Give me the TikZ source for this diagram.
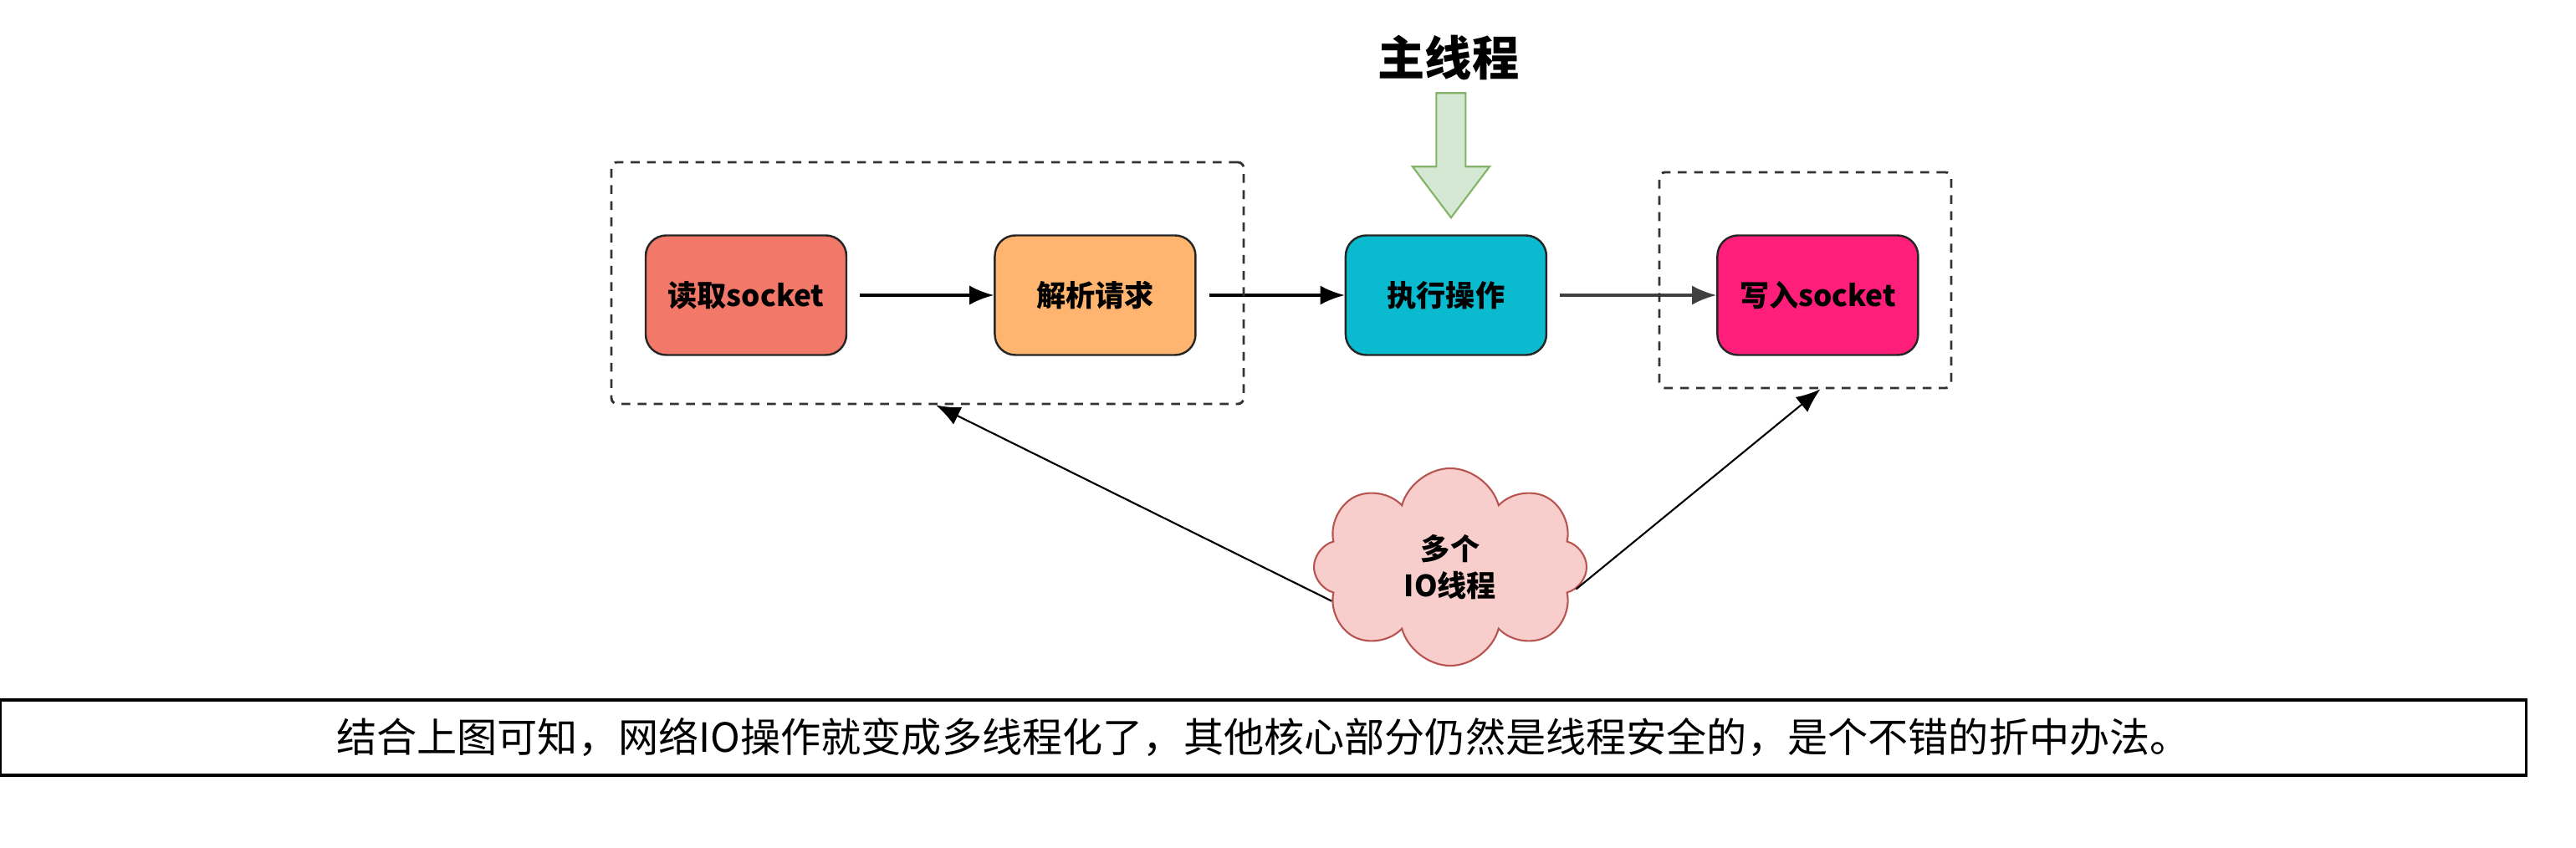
\documentclass[tikz,border=0pt]{standalone}
\usepackage{fontspec}
\setmainfont{Noto Sans CJK SC}
\usetikzlibrary{shapes,shapes.symbols,arrows.meta,positioning,calc}
\usepackage{xcolor}
\definecolor{readred}{HTML}{F2786A}
\definecolor{parseorange}{HTML}{FFB570}
\definecolor{execteal}{HTML}{0ABBCF}
\definecolor{writepink}{HTML}{FF1F7B}
\definecolor{mainfill}{HTML}{D5E8D4}
\definecolor{mainedge}{HTML}{82B366}
\definecolor{cloudfill}{HTML}{F8CECC}
\definecolor{cloudedge}{HTML}{B85450}

\begin{document}
\begin{tikzpicture}[
    proc/.style={rectangle, rounded corners=7pt, minimum width=2.4cm, minimum height=1.43cm, text centered, draw=black!85, line width=0.7pt, font=\bfseries\fontsize{10}{12}\selectfont},
    grp/.style={rectangle, rounded corners=2pt, draw=black!80, line width=0.8pt, dash pattern=on 3pt off 2.5pt},
    flow/.style={->, line width=0.9pt, shorten <=0.15cm},
    >={Latex[length=2.9mm, width=2.3mm]}
]
\useasboundingbox (0,0) rectangle (30.8,-10.14);

% === ALUR UTAMA ===
\node (read) [proc, fill=readred] at (8.92,-3.53) {读取socket};
\node (parse) [proc, fill=parseorange, right=1.75cm of read] {解析请求};
\node (exec) [proc, fill=execteal, right=1.77cm of parse] {执行操作};
\node (write) [proc, fill=writepink, right=2.02cm of exec] {写入socket};

\draw[flow] (read) -- (parse);
\draw[flow] (parse) -- (exec);
\draw[flow, black!75] (exec) -- (write);

% === KOTAK IO ===
\node (readgrp) [grp, minimum width=7.56cm, minimum height=2.89cm] at (11.09,-3.385) {};
\node (writegrp) [grp, minimum width=3.49cm, minimum height=2.58cm] at (21.585,-3.35) {};

% === THREAD UTAMA ===
\node (title) at (17.32,-0.69) {\bfseries\fontsize{16}{18}\selectfont 主线程};
\coordinate (tip) at ($(exec.north)+(0.06,0.2)$);
\draw[fill=mainfill, draw=mainedge, line width=0.6pt] (tip) -- ++(-0.46,0.61) -- ++(0.285,0) -- ++(0,0.88) -- ++(0.35,0) -- ++(0,-0.88) -- ++(0.285,0) -- cycle;

% === THREAD IO ===
\node (io) [cloud, cloud puffs=8, aspect=1.4, minimum width=3.26cm, minimum height=2.36cm, fill=cloudfill, draw=cloudedge, line width=0.6pt, align=center, font=\bfseries\fontsize{10}{12.5}\selectfont] at (17.34,-6.78) {多个\\IO线程};
\draw[->, line width=0.6pt] (io.196) -- ([xshift=0.1cm]readgrp.south);
\draw[->, line width=0.6pt] (io.350) -- ([xshift=0.18cm]writegrp.south);

% Keterangan
\node (note) [draw, line width=1pt, minimum width=30.2cm, minimum height=0.9cm, font=\fontsize{13.7}{16}\selectfont] at (15.105,-8.82) {结合上图可知，网络IO操作就变成多线程化了，其他核心部分仍然是线程安全的，是个不错的折中办法。};

\end{tikzpicture}
\end{document}
